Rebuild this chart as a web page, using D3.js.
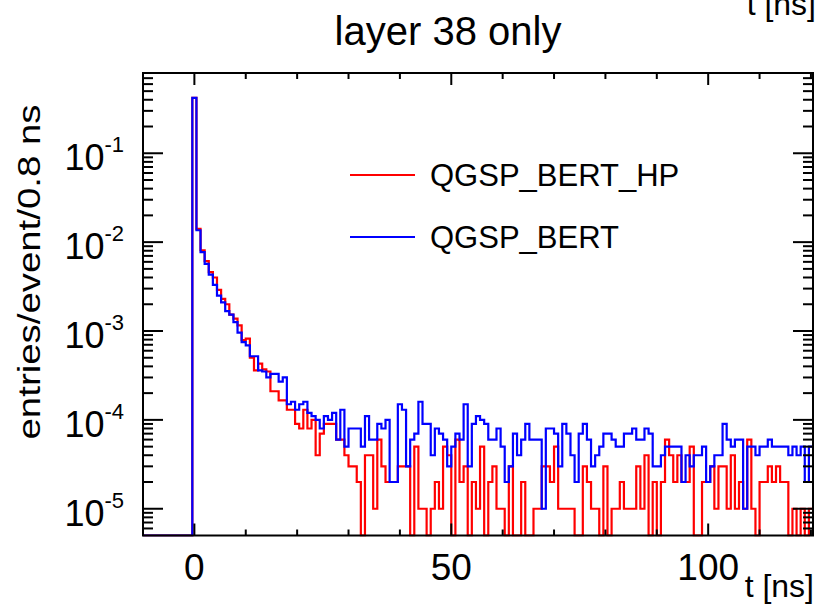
<!DOCTYPE html>
<html>
<head>
<meta charset="utf-8">
<script src="https://cdn.jsdelivr.net/npm/d3@7"></script>
<style>
  body { margin: 0; background: #fff; }
  svg { display: block; }
  text { font-family: "Liberation Sans", Arial, Helvetica, sans-serif; fill: #000; }
</style>
</head>
<body>
<svg id="chart" width="818" height="604"></svg>
<script>
// Time histogram, 0.8 ns bins; bin k is centred on k * 0.8 ns
const BIN_WIDTH = 0.8;
const FIRST_BIN_CENTER = 0;

const seriesNames = ["QGSP_BERT_HP", "QGSP_BERT"];
const seriesColors = ["#ff0000", "#0000ff"];

// entries/event per bin, QGSP_BERT_HP
const hpValues = [
  0.42, 0.0141, 0.0081, 0.0061, 0.0046, 0.0040, 0.0029, 0.0023, 0.0020, 0.00153,
  0.00138, 0.00116, 0.00079, 0.00082, 0.00050, 0.00036, 0.00043, 0.00037, 0.00035, 0.00021,
  0.00021, 0.000166, 0.000166, 1.3e-4, 1.3e-4, 9e-5, 8e-5, 1.3e-4, 8e-5, 1e-4,
  4e-5, 7e-5, 9e-5, 9e-5, 9e-5, 6e-5, 6e-5, 4e-5, 3e-5, 3e-5,
  2e-5, 0, 4e-5, 4e-5, 1e-5, 6e-5, 3e-5, 2e-5, 2e-5, 2e-5,
  3e-5, 3e-5, 3e-5, 0, 5e-5, 1e-5, 1e-5, 0, 1e-5, 2e-5,
  1e-5, 5e-5, 4e-5, 0, 6e-5, 2e-5, 3e-5, 0, 2e-5, 1e-5,
  5e-5, 0, 2e-5, 3e-5, 1e-5, 1e-5, 0, 3e-5, 0, 0,
  2e-5, 0, 0, 1e-5, 1e-5, 3e-5, 3e-5, 2e-5, 5e-5, 1e-5,
  1e-5, 1e-5, 1e-5, 0, 0, 3e-5, 2e-5, 1e-5, 1e-5, 0,
  3e-5, 0, 1e-5, 1e-5, 2e-5, 1e-5, 1e-5, 1e-5, 3e-5, 1e-5,
  4e-5, 0, 2e-5, 0, 2e-5, 6e-5, 4e-5, 2e-5, 4e-5, 2e-5,
  2e-5, 5e-5, 0, 0, 2e-5, 2e-5, 3e-5, 1e-5, 3e-5, 3e-5,
  1e-5, 4e-5, 1e-5, 2e-5, 1e-5, 6e-5, 1e-5, 0, 2e-5, 2e-5,
  3e-5, 2e-5, 3e-5, 2e-5, 2e-5, 0, 1e-5, 0, 1e-5, 0,
  1e-5
];

// entries/event per bin, QGSP_BERT
const bertValues = [
  0.42, 0.0136, 0.0077, 0.0057, 0.0043, 0.0033, 0.0025, 0.0021, 0.00167, 0.00153,
  0.00126, 0.00096, 0.00075, 0.00069, 0.00052, 0.00052, 0.00036, 0.00035, 0.00030, 0.00033,
  0.00033, 0.00027, 0.00030, 1.5e-4, 1.6e-4, 1.3e-4, 1.5e-4, 1.6e-4, 1.2e-4, 1.1e-4,
  1e-4, 8e-5, 1.1e-4, 1e-4, 1.2e-4, 6e-5, 1.3e-4, 5e-5, 8e-5, 8e-5,
  8e-5, 5e-5, 1.1e-4, 6e-5, 6e-5, 9e-5, 8e-5, 1e-4, 2e-5, 2e-5,
  1.5e-4, 1.3e-4, 3e-5, 6e-5, 7e-5, 1.6e-4, 9e-5, 9e-5, 4e-5, 8e-5,
  7e-5, 6e-5, 3e-5, 5e-5, 7e-5, 6e-5, 1.5e-4, 3e-5, 9e-5, 1.1e-4,
  1e-4, 9e-5, 6e-5, 6e-5, 8e-5, 5e-5, 2e-5, 3e-5, 7e-5, 4e-5,
  6e-5, 9e-5, 6e-5, 6e-5, 6e-5, 1e-5, 8e-5, 8e-5, 7e-5, 3e-5,
  9e-5, 7e-5, 4e-5, 2e-5, 7e-5, 9e-5, 6e-5, 3e-5, 4e-5, 5e-5,
  7e-5, 7e-5, 6e-5, 5e-5, 5e-5, 7e-5, 7e-5, 8e-5, 6e-5, 6e-5,
  8e-5, 7e-5, 3e-5, 3e-5, 4e-5, 5e-5, 5e-5, 5e-5, 5e-5, 2e-5,
  4e-5, 3e-5, 4e-5, 4e-5, 5e-5, 2e-5, 3e-5, 4e-5, 4e-5, 9e-5,
  6e-5, 5e-5, 6e-5, 6e-5, 1e-5, 5e-5, 5e-5, 4e-5, 5e-5, 5e-5,
  6e-5, 5e-5, 5e-5, 5e-5, 5e-5, 4e-5, 5e-5, 4e-5, 5e-5, 2e-5,
  5e-5
];

const xDomain = [-10, 120.4];
const yDomain = [5e-6, 0.8];
const xMajorTicks = [0, 50, 100];
const xMinorTicks = [-10, 10, 20, 30, 40, 60, 70, 80, 90, 110, 120];
const yDecadeTicks = [1e-1, 1e-2, 1e-3, 1e-4, 1e-5];
const yDecadeExponents = ["-1", "-2", "-3", "-4", "-5"];

const titleText = "layer 38 only";
const xTitle = "t [ns]";
const yTitle = "entries/event/0.8 ns";

const frame = { left: 143, right: 813, top: 73, bottom: 535.5 };

const svg = d3.select("#chart");

const x = d3.scaleLinear().domain(xDomain).range([frame.left, frame.right]);
const y = d3.scaleLog().domain(yDomain).range([frame.bottom, frame.top]);

svg.append("defs").append("clipPath").attr("id", "plotClip")
  .append("rect")
  .attr("x", frame.left).attr("y", frame.top - 1)
  .attr("width", frame.right - frame.left)
  .attr("height", frame.bottom - frame.top + 2);

// step outline of a histogram; empty bins sit on the lower edge
function histogramPoints(values) {
  const pts = [];
  const yOf = v => (v > yDomain[0] ? y(v) : y(yDomain[0]));
  pts.push([x(xDomain[0]), yOf(0)]);
  values.forEach((v, k) => {
    const c = FIRST_BIN_CENTER + k * BIN_WIDTH;
    const lo = c - BIN_WIDTH / 2, hi = c + BIN_WIDTH / 2;
    pts.push([x(lo), pts[pts.length - 1][1]]);
    pts.push([x(lo), yOf(v)]);
    pts.push([x(hi), yOf(v)]);
  });
  return pts;
}

const line = d3.line();
const plot = svg.append("g").attr("clip-path", "url(#plotClip)");
[hpValues, bertValues].forEach((vals, i) => {
  plot.append("path")
    .attr("d", line(histogramPoints(vals)))
    .attr("fill", "none")
    .attr("stroke", seriesColors[i])
    .attr("stroke-width", 2.2)
    .attr("stroke-linejoin", "miter");
});

// frame
svg.append("rect")
  .attr("x", frame.left).attr("y", frame.top)
  .attr("width", frame.right - frame.left)
  .attr("height", frame.bottom - frame.top)
  .attr("fill", "none").attr("stroke", "#000").attr("stroke-width", 2);

const ticks = svg.append("g").attr("stroke", "#000").attr("stroke-width", 2);

// x ticks, bottom and top
xMajorTicks.concat(xMinorTicks).forEach(t => {
  const len = xMajorTicks.includes(t) ? 12 : 6;
  const px = x(t);
  ticks.append("line").attr("x1", px).attr("x2", px)
    .attr("y1", frame.bottom).attr("y2", frame.bottom - len);
  ticks.append("line").attr("x1", px).attr("x2", px)
    .attr("y1", frame.top).attr("y2", frame.top + len);
});

// y ticks (log), left and right
const yMinor = [];
for (let e = -6; e <= 0; e++) {
  for (let m = 2; m <= 9; m++) {
    const v = m * Math.pow(10, e);
    if (v >= yDomain[0] && v <= yDomain[1]) yMinor.push(v);
  }
}
yDecadeTicks.forEach(v => {
  const py = y(v);
  ticks.append("line").attr("x1", frame.left).attr("x2", frame.left + 20).attr("y1", py).attr("y2", py);
  ticks.append("line").attr("x1", frame.right).attr("x2", frame.right - 20).attr("y1", py).attr("y2", py);
});
yMinor.forEach(v => {
  const py = y(v);
  ticks.append("line").attr("x1", frame.left).attr("x2", frame.left + 10).attr("y1", py).attr("y2", py);
  ticks.append("line").attr("x1", frame.right).attr("x2", frame.right - 10).attr("y1", py).attr("y2", py);
});

// x tick labels
xMajorTicks.forEach(t => {
  svg.append("text")
    .attr("x", x(t)).attr("y", 580)
    .attr("text-anchor", "middle")
    .attr("font-size", 37)
    .text(t);
});

// y tick labels as powers of ten
yDecadeTicks.forEach((v, i) => {
  const t = svg.append("text")
    .attr("x", 124).attr("y", y(v) + 17)
    .attr("text-anchor", "end")
    .attr("font-size", 36);
  t.append("tspan").text("10");
  t.append("tspan").attr("font-size", 22).attr("dy", -18).text(yDecadeExponents[i]);
});

// titles
svg.append("text")
  .attr("x", 448).attr("y", 45)
  .attr("text-anchor", "middle")
  .attr("font-size", 40)
  .text(titleText);

svg.append("text")
  .attr("x", 814).attr("y", 597)
  .attr("text-anchor", "end")
  .attr("font-size", 32)
  .text(xTitle);

svg.append("text")
  .attr("x", 816).attr("y", 15)
  .attr("text-anchor", "end")
  .attr("font-size", 32)
  .text(xTitle);

svg.append("text")
  .attr("transform", "translate(40,272) scale(1,1.2) rotate(-90)")
  .attr("text-anchor", "middle")
  .attr("font-size", 32)
  .text(yTitle);

// legend
const legendRows = [175, 237];
seriesNames.forEach((name, i) => {
  svg.append("line")
    .attr("x1", 350).attr("x2", 415)
    .attr("y1", legendRows[i]).attr("y2", legendRows[i])
    .attr("stroke", seriesColors[i]).attr("stroke-width", 2.2);
  svg.append("text")
    .attr("x", 430).attr("y", legendRows[i] + 11)
    .attr("font-size", 31)
    .text(name);
});
</script>
</body>
</html>
